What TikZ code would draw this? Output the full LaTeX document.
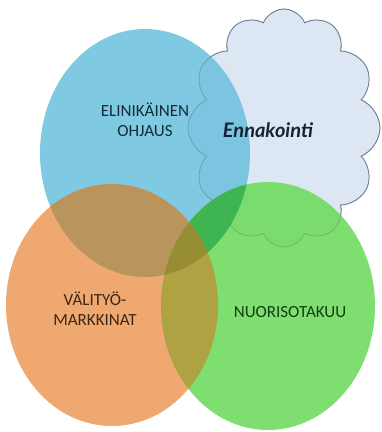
\documentclass[tikz,border=0pt]{standalone}
\usepackage{fontspec}
\setmainfont{Carlito}
\newfontfamily\handfont{Lato}
\usetikzlibrary{shapes.symbols}
\definecolor{cloudfill}{RGB}{221,230,243}
\definecolor{cloudline}{RGB}{112,122,142}
\definecolor{ohjausfill}{RGB}{106,192,222}
\definecolor{markkinatfill}{RGB}{238,168,112}
\definecolor{takuufill}{RGB}{112,220,96}
\tikzset{
  venntext/.style={font=\fontsize{17}{20}\selectfont, align=center},
  overlap/.style={fill opacity=0.95},
  cloudshape/.style={cloud, cloud puffs=12, cloud puff arc=135, cloud ignores aspect,
    minimum width=192pt, minimum height=238pt, line width=0.8pt}
}
% circles of the diagram
\def\ohjauspath{(145,153) ellipse [x radius=105, y radius=124]}
\def\markkinatpath{(112,305) ellipse [x radius=106, y radius=121]}
\def\takuupath{(268,306) ellipse [x radius=107, y radius=124]}

\begin{document}
\begin{tikzpicture}[x=1pt, y=-1pt]
  \useasboundingbox (0,0) rectangle (382,432);
  \node[cloudshape, fill=cloudfill, draw=cloudline] (ennakointi) at (284,128) {};
  \fill[ohjausfill, fill opacity=0.85] \ohjauspath;
  \fill[markkinatfill] \markkinatpath;
  \fill[takuufill, fill opacity=0.9] \takuupath;
  % Overlaps
  \begin{scope}
    \clip \ohjauspath;
    \fill[overlap, color={rgb,255:red,184;green,147;blue,92}] \markkinatpath;
    \fill[overlap, color={rgb,255:red,60;green,180;blue,80}] \takuupath;
  \end{scope}
  \begin{scope}
    \clip \markkinatpath;
    \fill[overlap, color={rgb,255:red,178;green,160;blue,66}] \takuupath;
    \clip \ohjauspath;
    \fill[overlap, color={rgb,255:red,150;green,140;blue,50}] \takuupath;
  \end{scope}
  % cloud edge seen through the circles
  \node[cloudshape, draw=cloudline, draw opacity=0.35] (ennakointiedge) at (284,128) {};
  \node[venntext, text={rgb,255:red,20;green,42;blue,58}] (ohjaus) at (145,120) {ELINIKÄINEN\\OHJAUS};
  \node[venntext, text={rgb,255:red,60;green,38;blue,20}] (markkinat) at (95,309) {VÄLITYÖ-\\MARKKINAT};
  \node[venntext, text={rgb,255:red,20;green,60;blue,20}] (takuu) at (290,312) {NUORISOTAKUU};
  \node[font=\handfont\bfseries\itshape\fontsize{20}{22}\selectfont, text={rgb,255:red,25;green,35;blue,55}] (ennakointitext) at (268,130) {Ennakointi};
\end{tikzpicture}
\end{document}
